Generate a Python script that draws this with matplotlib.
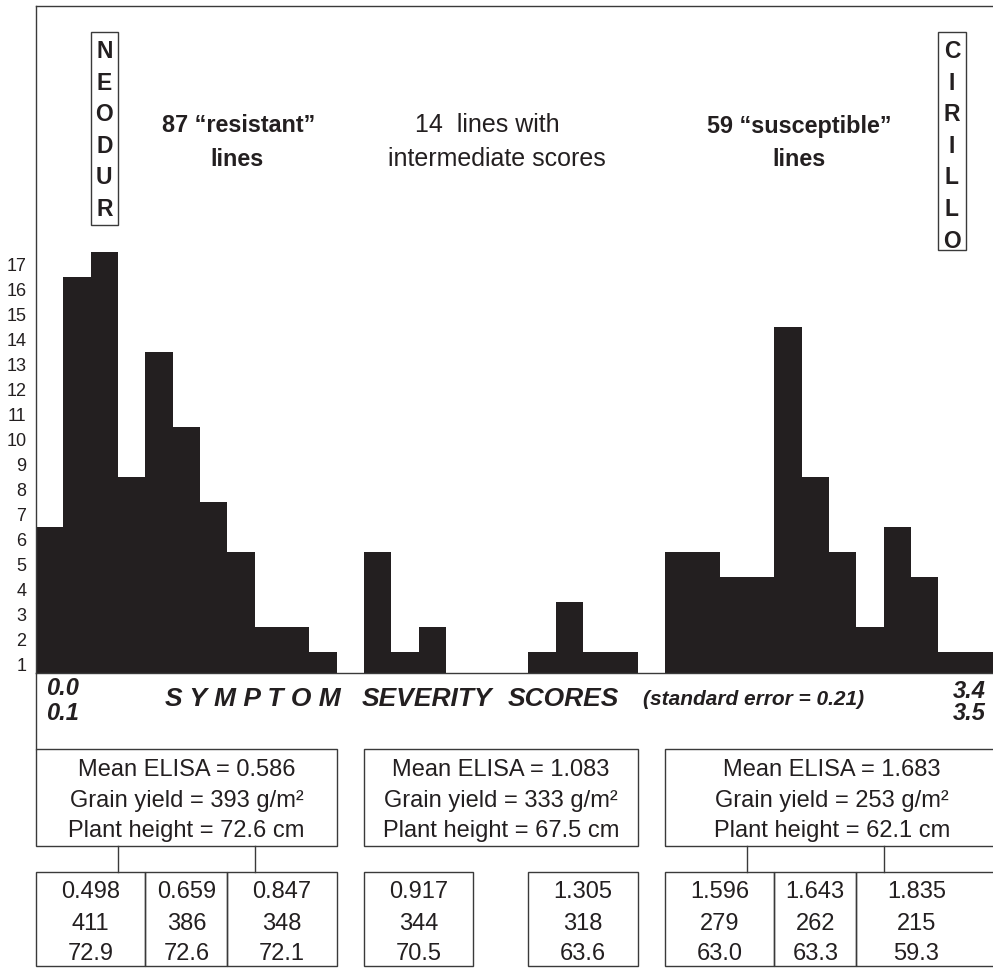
import matplotlib
matplotlib.use('Agg')
import matplotlib.pyplot as plt
import matplotlib.transforms as mtransforms
from matplotlib.patches import Rectangle
from matplotlib.lines import Line2D

plt.rcParams['font.family'] = ['Liberation Sans', 'DejaVu Sans']

# ---------------- data ----------------
bin_width = 0.1
counts = [6, 16, 17, 8, 13, 10, 7, 5, 2, 2, 1,
          0, 5, 1, 2, 0, 0, 0, 1, 3, 1, 1, 0,
          5, 5, 4, 4, 14, 8, 5, 2, 6, 4, 1, 1]
ytick_values = list(range(1, 18))

group_titles = [("87 \u201cresistant\u201d", "lines"),
                ("14  lines with", "intermediate scores"),
                ("59 \u201csusceptible\u201d", "lines")]
parent_left = "NEODUR"
parent_right = "CIRILLO"
axis_title_words = ["S Y M P T O M", "SEVERITY", "SCORES"]
axis_note = "(standard error = 0.21)"

group_spans = [(0.0, 1.1), (1.2, 2.2), (2.3, 3.52)]
mean_elisa = ["0.586", "1.083", "1.683"]
grain_yield = ["393", "333", "253"]
plant_height = ["72.6", "67.5", "62.1"]

sub_spans = [(0.0, 0.4), (0.4, 0.7), (0.7, 1.1), (1.2, 1.6), (1.8, 2.2),
             (2.3, 2.7), (2.7, 3.0), (3.0, 3.6)]
sub_text_x = [0.2, 0.55, 0.9, 1.4, 2.0, 2.5, 2.85, 3.22]
sub_elisa = ["0.498", "0.659", "0.847", "0.917", "1.305", "1.596", "1.643", "1.835"]
sub_yield = ["411", "386", "348", "344", "318", "279", "262", "215"]
sub_height = ["72.9", "72.6", "72.1", "70.5", "63.6", "63.0", "63.3", "59.3"]
connector_x = [0.3, 0.8, 2.6, 3.1]

# ---------------- figure ----------------
W, H = 993, 968
fig = plt.figure(figsize=(W / 100, H / 100), dpi=100)
INK = '#231f20'
EDGE = '#3a3a3a'


def fy(y):
    return 1 - y / H


def fx(x):
    return x / W


ax = fig.add_axes([fx(36), fy(673), (W - 36) / W, (673 - 6) / H])
edges = [i * bin_width for i in range(len(counts))]
ax.bar(edges, counts, width=bin_width, align='edge', color=INK, linewidth=0)
ax.set_xlim(0, len(counts) * bin_width)
ax.set_ylim(0.15, 26.83)
ax.set_xticks([])
ax.set_yticks([v - 0.5 for v in ytick_values])
ax.set_yticklabels([str(v) for v in ytick_values], fontsize=13, color=INK)
ax.tick_params(axis='y', length=0, pad=7)
for s in ['left', 'top', 'bottom']:
    ax.spines[s].set_color(EDGE)
    ax.spines[s].set_linewidth(1.0)
ax.spines['right'].set_visible(False)

blend = mtransforms.blended_transform_factory(ax.transData, fig.transFigure)

# left frame extension down to the summary boxes
fig.add_artist(Line2D([fx(36), fx(36)], [fy(673), fy(749)], color=EDGE, lw=1.0,
                      transform=fig.transFigure))

# ---------------- top annotations ----------------
title_pos = [(239, 132, 237, 165.5, 'bold', 16.8),
             (487.5, 132, 497, 165.5, 'normal', 18),
             (799, 133, 798.5, 166.5, 'bold', 16.8)]
for (l1, l2), (x1, y1, x2, y2, wt, fs) in zip(group_titles, title_pos):
    fig.text(fx(x1), fy(y1), l1, ha='center', va='baseline', fontsize=fs,
             fontweight=wt, color=INK)
    fig.text(fx(x2), fy(y2), l2, ha='center', va='baseline', fontsize=fs,
             fontweight=wt, color=INK)


def letter_box(name, b0, b1, top, bottom):
    ax.add_patch(Rectangle((b0, fy(bottom)), b1 - b0, (bottom - top) / H,
                           transform=blend, fill=False, edgecolor=EDGE, lw=1.0,
                           clip_on=False))
    for i, ch in enumerate(name):
        ax.text((b0 + b1) / 2, fy(58 + i * 31.6), ch, transform=blend,
                ha='center', va='baseline', fontsize=16.5, fontweight='bold',
                color=INK, clip_on=False)


letter_box(parent_left, 0.2, 0.3, 32, 225)
letter_box(parent_right, 3.3, 3.4, 32, 250)

# ---------------- x axis legend ----------------
bi = dict(fontweight='bold', fontstyle='italic', color=INK, va='baseline')
fig.text(fx(46), fy(695), "0.0", ha='left', fontsize=17, **bi)
fig.text(fx(46), fy(720), "0.1", ha='left', fontsize=17, **bi)
fig.text(fx(986), fy(698), "3.4", ha='right', fontsize=17, **bi)
fig.text(fx(986), fy(720), "3.5", ha='right', fontsize=17, **bi)
for x0, w in zip([165, 362, 508], axis_title_words):
    fig.text(fx(x0), fy(706.5), w, ha='left', fontsize=19, **bi)
fig.text(fx(643), fy(705), axis_note, ha='left', fontsize=15, **bi)

# ---------------- summary boxes ----------------
mtop, mbot = 749, 846
for (a, b), e, g, h in zip(group_spans, mean_elisa, grain_yield, plant_height):
    ax.add_patch(Rectangle((a, fy(mbot)), b - a, (mbot - mtop) / H, transform=blend,
                           fill=False, edgecolor=EDGE, lw=1.0, clip_on=False))
    cx = (a + b) / 2
    for yb, s in zip([776, 807, 837.5],
                     [f"Mean ELISA = {e}", f"Grain yield = {g} g/m\u00b2",
                      f"Plant height = {h} cm"]):
        ax.text(cx, fy(yb), s, transform=blend, ha='center', va='baseline',
                fontsize=17, color=INK, clip_on=False)

stop, sbot = 872, 966
for x in connector_x:
    ax.add_line(Line2D([x, x], [fy(mbot), fy(stop)], transform=blend, color=EDGE,
                       lw=1.0, clip_on=False))

for (a, b), tx, e, g, h in zip(sub_spans, sub_text_x, sub_elisa, sub_yield, sub_height):
    ax.add_patch(Rectangle((a, fy(sbot)), b - a, (sbot - stop) / H, transform=blend,
                           fill=False, edgecolor=EDGE, lw=1.0, clip_on=False))
    for yb, s in zip([897.5, 929.5, 960], [e, g, h]):
        ax.text(tx, fy(yb), s, transform=blend, ha='center', va='baseline',
                fontsize=17, color=INK, clip_on=False)

fig.savefig('out.png', dpi=100)
